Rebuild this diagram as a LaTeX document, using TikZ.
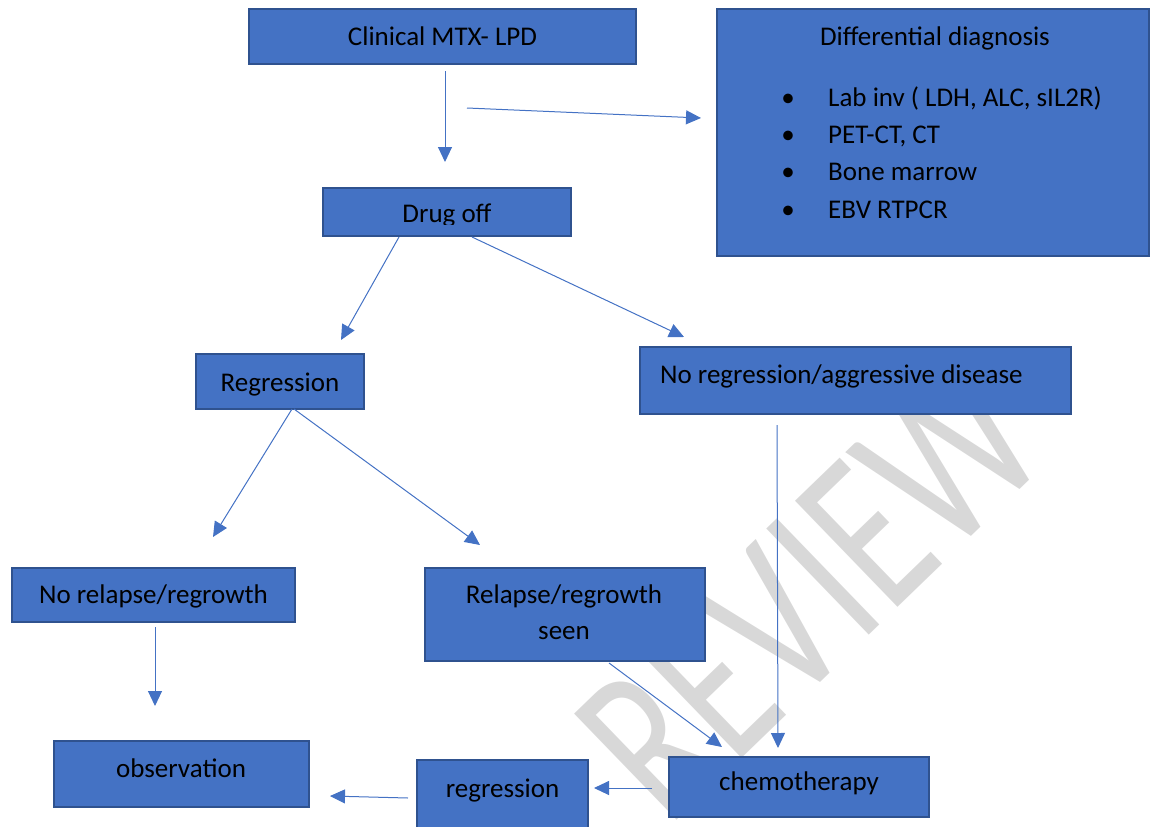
\documentclass[tikz,border=0pt]{standalone}
\usepackage{fontspec}
\setmainfont{Carlito}
\usetikzlibrary{arrows.meta}
\definecolor{boxfill}{HTML}{4472C4}
\definecolor{boxline}{HTML}{2F528F}
\definecolor{arrowc}{HTML}{4472C4}
\definecolor{wmgray}{HTML}{D8D8D8}
\begin{document}
\begin{tikzpicture}[x=1pt,y=-1pt,
  box/.style={draw=boxline, fill=boxfill, line width=1.8pt, inner sep=0pt},
  txt/.style={anchor=base, inner sep=0pt, font=\fontsize{27}{33}\selectfont, text=black},
  txtw/.style={txt, anchor=base west},
  conn/.style={draw=arrowc, line width=1pt, -{Triangle[length=15pt,width=14pt]}}]
\useasboundingbox (0,0) rectangle (1151,827);
\clip (0,0) rectangle (1151,827);
% watermark
\node[rotate=44, text=wmgray, font=\fontsize{230}{230}\selectfont, inner sep=0pt] (wmark) at (810,590) {\scalebox{0.72}[1]{REVIEW}};
% boxes
\node[box, minimum width=387pt, minimum height=55pt] (clin) at (442.5,36.5) {};
\node[box, minimum width=432pt, minimum height=247pt] (diff) at (933,132.5) {};
\node[box, minimum width=248pt, minimum height=48pt] (drug) at (447,212) {};
\node[box, minimum width=168pt, minimum height=55pt] (regr) at (280,381.5) {};
\node[box, minimum width=431pt, minimum height=67pt] (noreg) at (855.5,380.5) {};
\node[box, minimum width=283pt, minimum height=54pt] (norel) at (153.5,595) {};
\node[box, minimum width=280pt, minimum height=93pt] (rel) at (565,614.5) {};
\node[box, minimum width=255pt, minimum height=66pt] (obs) at (181.5,774) {};
\node[box, minimum width=171pt, minimum height=80pt] (regr2) at (502.5,800) {};
\node[box, minimum width=260pt, minimum height=60pt] (chemo) at (799,787) {};
% texts
\node[txt] (clint) at (442.5,45) {Clinical MTX- LPD};
\node[txt] (difft) at (935,45) {Differential diagnosis};
\node[txt] (b1) at (788,106) {•};
\node[txt] (b2) at (788,143) {•};
\node[txt] (b3) at (788,180) {•};
\node[txt] (b4) at (788,218) {•};
\node[txtw] (l1) at (828,106) {Lab inv ( LDH, ALC, sIL2R)};
\node[txtw] (l2) at (828,143) {PET-CT, CT};
\node[txtw] (l3) at (828,180) {Bone marrow};
\node[txtw] (l4) at (828,218) {EBV RTPCR};
\begin{scope}
\clip (323,188) rectangle (571,224);
\node[txt] (drugt) at (447,222) {Drug off};
\end{scope}
\node[txt] (regrt) at (280,391) {Regression};
\node[txtw] (noregt) at (660,383) {No regression/aggressive disease};
\node[txt] (norelt) at (153.5,603) {No relapse/regrowth};
\node[txt] (relt1) at (564,603) {Relapse/regrowth};
\node[txt] (relt2) at (564,639) {seen};
\node[txt] (obst) at (181,777) {observation};
\node[txt] (regr2t) at (502.5,797) {regression};
\node[txt] (chemot) at (799,790) {chemotherapy};
% connector ends
\coordinate (a1s) at (445,71);   \coordinate (a1e) at (445,162);
\coordinate (a2s) at (467,108);  \coordinate (a2e) at (701,118);
\coordinate (a3s) at (399,237);  \coordinate (a3e) at (341,340);
\coordinate (a4s) at (472,237);  \coordinate (a4e) at (684,337);
\coordinate (a5s) at (292,409);  \coordinate (a5e) at (213,537);
\coordinate (a6s) at (294,409);  \coordinate (a6e) at (480,545);
\coordinate (a7s) at (777,425);  \coordinate (a7e) at (778,748);
\coordinate (a8s) at (609,663);  \coordinate (a8e) at (722,747);
\coordinate (a9s) at (155,627);  \coordinate (a9e) at (155,706);
\coordinate (a10s) at (652,788); \coordinate (a10e) at (594,788);
\coordinate (a11s) at (408,798); \coordinate (a11e) at (330,796);
% connectors
\draw[conn] (a1s) -- (a1e);
\draw[conn] (a2s) -- (a2e);
\draw[conn] (a3s) -- (a3e);
\draw[conn] (a4s) -- (a4e);
\draw[conn] (a5s) -- (a5e);
\draw[conn] (a6s) -- (a6e);
\draw[conn] (a7s) -- (a7e);
\draw[conn] (a8s) -- (a8e);
\draw[conn] (a9s) -- (a9e);
\draw[conn] (a10s) -- (a10e);
\draw[conn] (a11s) -- (a11e);
\end{tikzpicture}
\end{document}
